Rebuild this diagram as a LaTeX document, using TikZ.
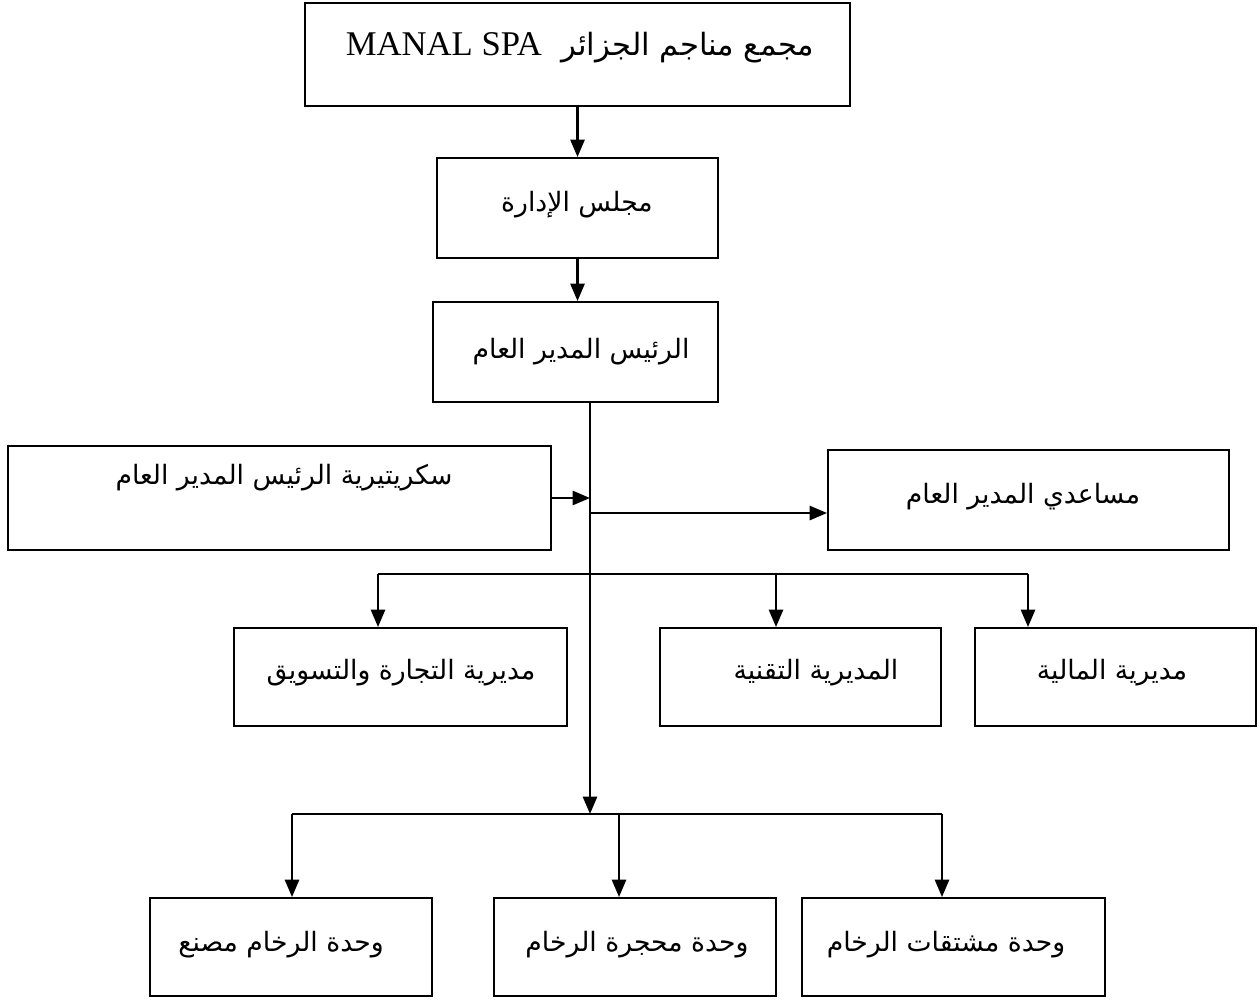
\documentclass[tikz,border=0pt]{standalone}
\usepackage{fontspec}
\setmainfont{Liberation Serif}
\newfontfamily\arabicfont[Script=Arabic]{DejaVu Sans}
\TeXXeTstate=1
\usetikzlibrary{arrows.meta}

\tikzset{
  box/.style 2 args={draw, line width=1.4pt, rectangle, inner sep=0pt,
    minimum width=0.75*#1pt, minimum height=0.75*#2pt},
  lbl/.style={inner sep=0.75pt, font=\arabicfont\fontsize{20}{24}\selectfont},
  conn/.style={line width=1.9pt},
  arr/.style={conn, -{Triangle[length=13pt,width=10.5pt]}},
}

\begin{document}
\begin{tikzpicture}[x=0.75pt,y=0.75pt,yscale=-1,xscale=1]
\useasboundingbox (0,0) rectangle (1259,999);

%Boxes
\node[box={545}{103}] (top) at (577.5,54.5) {};
\node[box={281}{100}] (board) at (577.5,208) {};
\node[box={285}{100}] (ceo) at (575.5,352) {};
\node[box={543}{104}] (sec) at (279.5,498) {};
\node[box={401}{100}] (asst) at (1028.5,500) {};
\node[box={333}{98}] (com) at (400.5,677) {};
\node[box={281}{98}] (tech) at (800.5,677) {};
\node[box={281}{98}] (fin) at (1115.5,677) {};
\node[box={282}{98}] (fact) at (291,947) {};
\node[box={282}{98}] (quar) at (635,947) {};
\node[box={303}{98}] (deriv) at (953.5,947) {};

% Text Node
\node[lbl, font=\arabicfont\fontsize{23}{27}\selectfont] (toptxt) at (580,48) {\beginR مجمع مناجم الجزائر\ \ \beginL{\rmfamily\fontsize{26}{30}\selectfont MANAL SPA}\endL\endR};
% Text Node
\node[lbl] (boardtxt) at (577,205) {\beginR مجلس الإدارة\endR};
% Text Node
\node[lbl] (ceotxt) at (581,352) {\beginR الرئيس المدير العام\endR};
% Text Node
\node[lbl] (sectxt) at (284,478) {\beginR سكريتيرية الرئيس المدير العام\endR};
% Text Node
\node[lbl] (assttxt) at (1023,497) {\beginR مساعدي المدير العام\endR};
% Text Node
\node[lbl] (comtxt) at (401,673) {\beginR مديرية التجارة والتسويق\endR};
% Text Node
\node[lbl] (techtxt) at (816,673) {\beginR المديرية التقنية\endR};
% Text Node
\node[lbl] (fintxt) at (1112,673) {\beginR مديرية المالية\endR};
% Text Node
\node[lbl] (facttxt) at (281,945) {\beginR وحدة الرخام مصنع\endR};
% Text Node
\node[lbl] (quartxt) at (637,945) {\beginR وحدة محجرة الرخام\endR};
% Text Node
\node[lbl] (derivtxt) at (946,945) {\beginR وحدة مشتقات الرخام\endR};

%Junctions
\coordinate (hub) at (590,814);
\coordinate (aa) at (590,513);
\coordinate (b1) at (378,574);
\coordinate (b2) at (776,574);
\coordinate (b3) at (1028,574);
\coordinate (c1) at (292,814);
\coordinate (c2) at (619,814);
\coordinate (c3) at (942,814);

%Connectors
\draw[arr] (board.north |- top.south) -- (board.north);
\draw[arr] (board.south) -- (board.south |- ceo.north);
\draw[arr] (ceo.south -| hub) -- (hub);
\draw[arr] (sec.east) -- (sec.east -| hub);
\draw[arr] (aa) -- (aa -| asst.west);
\draw[conn] (b1) -- (b3);
\draw[arr] (b1) -- (b1 |- com.north);
\draw[arr] (b2) -- (b2 |- tech.north);
\draw[arr] (b3) -- (b3 |- fin.north);
\draw[conn] (c1) -- (c3);
\draw[arr] (c1) -- (c1 |- fact.north);
\draw[arr] (c2) -- (c2 |- quar.north);
\draw[arr] (c3) -- (c3 |- deriv.north);

\end{tikzpicture}
\end{document}
